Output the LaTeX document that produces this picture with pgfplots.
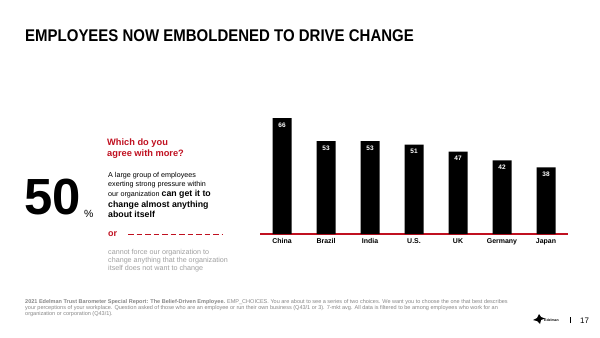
\documentclass[border=0pt]{standalone}
\usepackage{fontspec}
\setmainfont{Liberation Sans}
\usepackage{pgfplots}
\pgfplotsset{compat=1.18}
\definecolor{edred}{RGB}{192,16,32}
\definecolor{lgray}{RGB}{160,160,160}
\definecolor{fgray}{RGB}{135,135,135}
\begin{document}
\begin{tikzpicture}[x=1bp,y=1bp]
\useasboundingbox[fill=white] (0,0) rectangle (600,337);
% title
\node[anchor=base west,inner sep=0pt,font=\fontsize{17}{20}\selectfont\bfseries] at (25,295.3) {\scalebox{0.885}[1]{EMPLOYEES NOW EMBOLDENED TO DRIVE CHANGE}};
% left panel
\node[anchor=base west,inner sep=0pt,font=\fontsize{51}{55}\selectfont\bfseries] at (24,123) {50};
\node[anchor=base west,inner sep=0pt,font=\fontsize{10.5}{12}\selectfont] at (84,119.3) {\%};
\node[anchor=base west,inner sep=0pt,text=edred,font=\fontsize{9.3}{11}\selectfont\bfseries] at (107,191.3) {Which do you};
\node[anchor=base west,inner sep=0pt,text=edred,font=\fontsize{9.3}{11}\selectfont\bfseries] at (107,181) {agree with more?};
\node[anchor=base west,inner sep=0pt,font=\fontsize{7.2}{9}\selectfont] at (108,159.7) {A large group of employees};
\node[anchor=base west,inner sep=0pt,font=\fontsize{7.2}{9}\selectfont] at (108,151) {exerting strong pressure within};
\node[anchor=base west,inner sep=0pt,font=\fontsize{7.2}{9}\selectfont] at (108,140.7) {our organization {\fontsize{8.8}{10}\selectfont\bfseries can get it to}};
\node[anchor=base west,inner sep=0pt,font=\fontsize{8.8}{10}\selectfont\bfseries] at (108,129.7) {change almost anything};
\node[anchor=base west,inner sep=0pt,font=\fontsize{8.8}{10}\selectfont\bfseries] at (108,119.7) {about itself};
\node[anchor=base west,inner sep=0pt,text=edred,font=\fontsize{9}{11}\selectfont\bfseries] at (108,100.3) {or};
\draw[edred,line width=1.5bp,dash pattern=on 5.5bp off 3bp] (128,102.7) -- (222,102.7);
\node[anchor=base west,inner sep=0pt,text=lgray,font=\fontsize{7.2}{8}\selectfont] at (108,83) {cannot force our organization to};
\node[anchor=base west,inner sep=0pt,text=lgray,font=\fontsize{7.2}{8}\selectfont] at (108,75) {change anything that the organization};
\node[anchor=base west,inner sep=0pt,text=lgray,font=\fontsize{7.2}{8}\selectfont] at (108,67) {itself does not want to change};
% chart
\begin{axis}[
  at={(260bp,103bp)}, anchor=south west,
  scale only axis, width=308bp, height=122.8bp,
  xmin=-0.5, xmax=6.5, ymin=0, ymax=70,
  ybar, bar width=19bp,
  axis y line=none, axis x line=bottom,
  x axis line style={-, draw=edred, line width=2bp},
  xtick=data, major tick length=0pt,
  xticklabels={China,Brazil,India,U.S.,UK,Germany,Japan},
  xticklabel style={font=\fontsize{7}{8}\selectfont\bfseries, yshift=-1bp},
  nodes near coords,
  nodes near coords align={below},
  every node near coord/.append style={text=white, font=\fontsize{6.5}{7}\selectfont\bfseries, /pgf/number format/assume math mode=true, yshift=-1bp},
  clip=false,
]
\addplot[fill=black, draw=none] coordinates {(0,66) (1,53) (2,53) (3,51) (4,47) (5,42) (6,38)};
\end{axis}
% footer
\node[anchor=base west,inner sep=0pt,text=fgray,font=\fontsize{5.55}{6}\selectfont] at (25,33.5) {\textbf{2021 Edelman Trust Barometer Special Report: The Belief-Driven Employee.} EMP\_CHOICES. You are about to see a series of two choices. We want you to choose the one that best describes};
\node[anchor=base west,inner sep=0pt,text=fgray,font=\fontsize{5.55}{6}\selectfont] at (25,27.5) {your perceptions of your workplace. Question asked of those who are an employee or run their own business (Q43/1 or 3). 7-mkt avg. All data is filtered to be among employees who work for an};
\node[anchor=base west,inner sep=0pt,text=fgray,font=\fontsize{5.55}{6}\selectfont] at (25,21.5) {organization or corporation (Q43/1).};
% logo
\fill[black] (533,17) -- (537,19) -- (539,23) -- (541,20) -- (545,18.5) -- (541,17) -- (540,13) -- (537,16) -- cycle;
\node[anchor=base west,inner sep=0pt,font=\fontsize{3.5}{4}\selectfont\bfseries] at (544,16) {Edelman};
\draw[black,line width=0.6bp] (570,14) -- (570,20);
\node[anchor=base west,inner sep=0pt,font=\fontsize{8}{9}\selectfont] at (580,14) {17};
\end{tikzpicture}
\end{document}
